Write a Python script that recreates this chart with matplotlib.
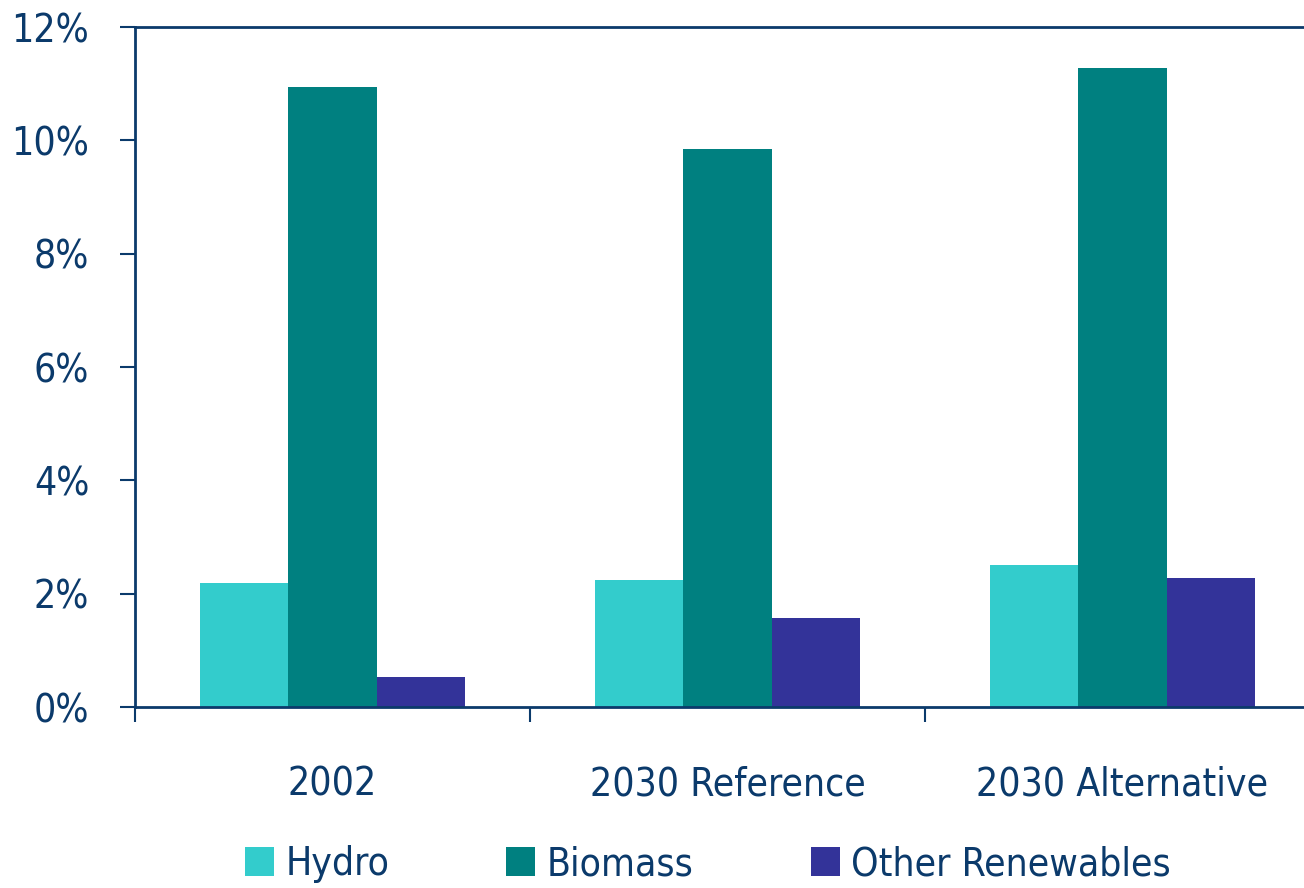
import matplotlib
matplotlib.use("Agg")
import matplotlib.pyplot as plt
from matplotlib import font_manager as fm
import numpy as np
from matplotlib.ticker import FuncFormatter, FixedLocator

categories = ["2002", "2030 Reference", "2030 Alternative"]
series_names = ["Hydro", "Biomass", "Other Renewables"]
hydro = [2.19, 2.24, 2.51]
biomass = [10.95, 9.84, 11.27]
other = [0.53, 1.57, 2.28]
colors = ["#33CCCC", "#008080", "#333399"]
yticks = [0, 2, 4, 6, 8, 10, 12]

navy = "#0B3A6B"

# choose a narrow font if available
fam, stretch, fs = 'Liberation Sans', 'normal', 28
try:
    fm.findfont(fm.FontProperties(family='Liberation Sans Narrow'), fallback_to_default=False)
    fam, stretch, fs = 'Liberation Sans Narrow', 'normal', 32
except Exception:
    try:
        p = fm.findfont(fm.FontProperties(family='DejaVu Sans', stretch='condensed'), fallback_to_default=False)
        if 'Condensed' in p:
            fam, stretch, fs = 'DejaVu Sans', 'condensed', 28
    except Exception:
        pass
plt.rcParams['font.family'] = [fam, 'DejaVu Sans']
plt.rcParams['font.stretch'] = stretch

fig = plt.figure(figsize=(13.04, 8.88), dpi=100)
ax = fig.add_axes([135/1304, 1-707/888, 1185/1304, 680/888])

x = np.arange(len(categories))
w = 0.2228
for i, (vals, name) in enumerate(zip([hydro, biomass, other], series_names)):
    ax.bar(x + (i-1)*w, vals, w, color=colors[i], label=name, zorder=2)

ax.set_xlim(-0.5, len(categories)-0.5)
ax.set_ylim(0, 12)
ax.yaxis.set_major_locator(FixedLocator(yticks))
ax.yaxis.set_major_formatter(FuncFormatter(lambda v, p: f"{int(v)}%"))

ax.set_xticks(np.arange(len(categories)+1)-0.5)
ax.set_xticklabels([])
ax.set_xticks(x, minor=True)
ax.set_xticklabels(categories, minor=True)

ax.spines['right'].set_visible(False)
for s in ['left', 'bottom', 'top']:
    ax.spines[s].set_color(navy)
    ax.spines[s].set_linewidth(2)

ax.tick_params(axis='y', which='major', length=11, width=1.5, color=navy,
               labelcolor=navy, labelsize=fs, pad=22)
ax.tick_params(axis='x', which='major', length=11, width=1.5, color=navy, direction='out')
ax.tick_params(axis='x', which='minor', length=0, labelcolor=navy, labelsize=fs, pad=42)

leg = fig.legend(loc='center', bbox_to_anchor=(708/1304, 1-864/888), ncol=3,
                 frameon=False, fontsize=fs, handlelength=0.75, handleheight=0.75,
                 handletextpad=0.3, columnspacing=3.0, labelcolor=navy)

fig.savefig("out.png", dpi=100)
